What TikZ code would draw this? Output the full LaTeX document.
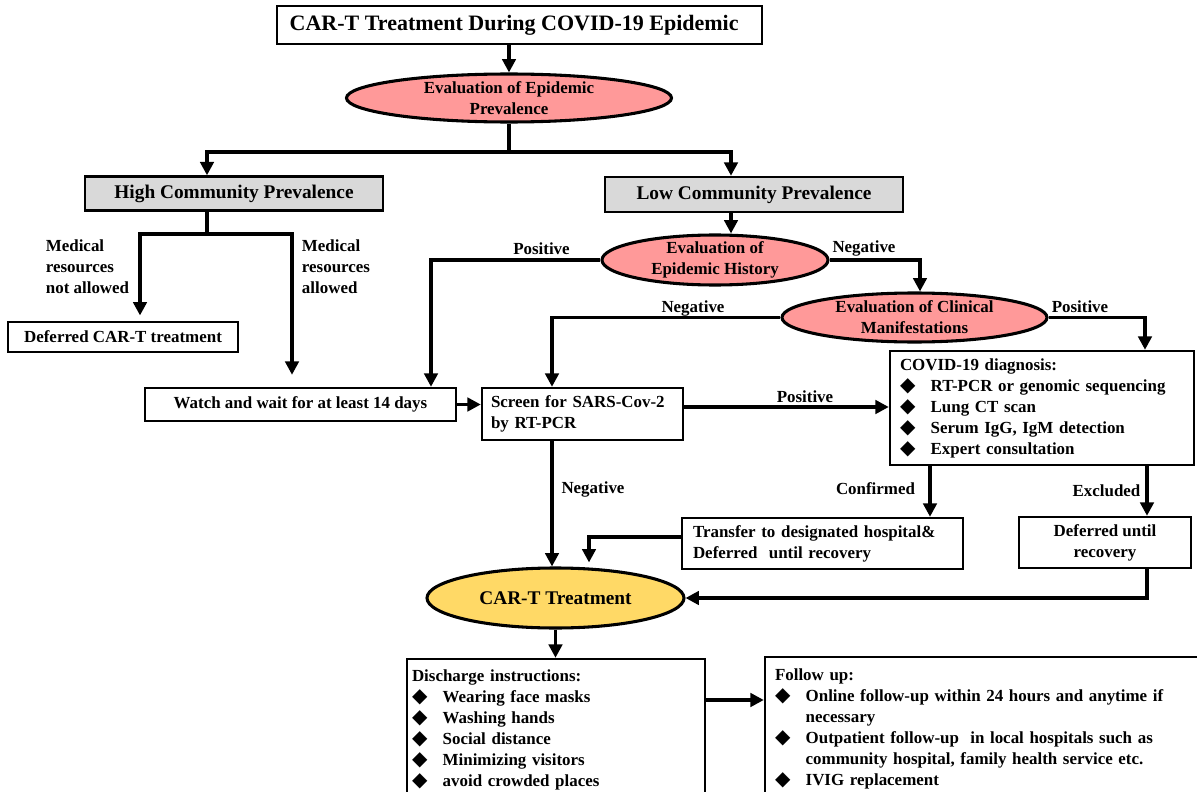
\documentclass[tikz,border=0pt]{standalone}
\usepackage{fontspec}
\setmainfont{Liberation Serif}
\newfontfamily\symfont{DejaVu Sans}
\usetikzlibrary{shapes.geometric,arrows.meta}

\definecolor{ovalpink}{HTML}{FF9999}
\definecolor{ovalyellow}{HTML}{FFD966}
\definecolor{boxgray}{HTML}{D9D9D9}

\newcommand\bodyfont{\fontsize{12.7pt}{15.75pt}\selectfont\bfseries}
\newcommand\bigfont{\fontsize{14.5pt}{17pt}\selectfont\bfseries}
\newcommand\titlefont{\fontsize{16.5pt}{19pt}\selectfont\bfseries}
\newcommand\dia{\makebox[23pt][l]{\symfont\fontsize{15pt}{15pt}\selectfont\char"25C6}}
\newcommand\gap{\hspace*{23pt}}

\begin{document}
\begin{tikzpicture}[x=0.75pt,y=-0.75pt,
    box/.style={draw,line width=1.8pt,fill=white,font=\bodyfont,inner sep=0pt},
    graybox/.style={box,fill=boxgray,font=\bigfont},
    oval/.style={ellipse,draw,line width=2.3pt,fill=ovalpink,font=\bodyfont,align=center,inner xsep=0pt,inner ysep=-2pt},
    wire/.style={line width=2.6pt},
    arr/.style={wire,-{Triangle[length=10pt,width=10pt]}},
    lab/.style={font=\bodyfont,align=left,inner sep=0pt}]
    \useasboundingbox (0,0) rectangle (1197,792);

    % boxes and ovals
    \node[box,font=\titlefont,minimum width=363.75pt,minimum height=28.5pt] (title) at (519.5,25) {CAR-T Treatment During COVID-19 Epidemic\hspace*{8pt}};
    \node[oval,minimum width=243.75pt,minimum height=36pt] (prev) at (509,98) {Evaluation of Epidemic\\Prevalence};
    \node[graybox,minimum width=223.5pt,minimum height=25.5pt] (high) at (234,193.5) {High Community Prevalence};
    \node[graybox,minimum width=223.5pt,minimum height=26.25pt] (low) at (754,194.5) {Low Community Prevalence};
    \node[oval,minimum width=169.5pt,minimum height=37.5pt] (hist) at (715,260) {Evaluation of\\Epidemic History};
    \node[oval,minimum width=198.75pt,minimum height=36.75pt] (clin) at (914.5,317.5) {Evaluation of Clinical\\Manifestations};
    \node[box,minimum width=172.5pt,minimum height=22.5pt] (defer) at (123,337) {Deferred CAR-T treatment};
    \node[box,minimum width=233.25pt,minimum height=24.75pt] (watch) at (300.5,404.5) {Watch and wait for at least 14 days};
    \node[box,align=left,text width=137.25pt,inner xsep=6.75pt,minimum height=39pt] (screen) at (582.5,414) {Screen for SARS-Cov-2\\by RT-PCR};
    \node[box,align=left,text width=213pt,inner xsep=7.5pt,minimum height=85.5pt] (covid) at (1042,408) {COVID-19 diagnosis:\\\dia RT-PCR or genomic sequencing\\\dia Lung CT scan\\\dia Serum IgG, IgM detection\\\dia Expert consultation};
    \node[box,align=left,text width=194.25pt,inner xsep=8.25pt,minimum height=38.25pt] (transfer) at (822.5,543.5) {Transfer to designated hospital\&\\Deferred\ \ until recovery};
    \node[box,align=center,minimum width=129pt,minimum height=38.25pt] (defrec) at (1105,542.5) {Deferred until\\recovery};
    \node[oval,fill=ovalyellow,font=\bigfont,minimum width=192.75pt,minimum height=45pt] (cart) at (555.5,598) {CAR-T Treatment};
    \node[box,align=left,text width=216pt,inner xsep=3.75pt,minimum height=105.75pt] (discharge) at (556,729.5) {Discharge instructions:\\\dia Wearing face masks\\\dia Washing hands\\\dia Social distance\\\dia Minimizing visitors\\\dia avoid crowded places};
    \node[box,align=left,text width=318.75pt,inner xsep=7.5pt,minimum height=107.25pt] (follow) at (987.5,728.5) {Follow up:\\\dia Online follow-up within 24 hours and anytime if\\\gap necessary\\\dia Outpatient follow-up\ \ in local hospitals such as\\\gap community hospital, family health service etc.\\\dia IVIG replacement};

    % labels
    \node[lab] (nal) at (87.5,267) {Medical\\resources\\not allowed};
    \node[lab] (al) at (336,267) {Medical\\resources\\allowed};
    \node[lab] (hpos) at (541.5,249) {Positive};
    \node[lab] (hneg) at (864,248) {Negative};
    \node[lab] (cneg) at (693,308) {Negative};
    \node[lab] (cpos) at (1080,307) {Positive};
    \node[lab] (spos) at (805,397) {Positive};
    \node[lab] (sneg) at (593,489) {Negative};
    \node[lab] (conf) at (875.5,489) {Confirmed};
    \node[lab] (excl) at (1106.5,491) {Excluded};

    % connectors
    \coordinate (split) at (509,152);
    \coordinate (hs) at (207,234);
    \draw[arr] (title.south -| prev.north) -- (prev.north);
    \draw[wire] (prev.south) -- (split);
    \draw[arr] (split) -| (207,0 |- high.north);
    \draw[arr] (split) -| (731,0 |- low.north);
    \draw[wire] (207,0 |- high.south) -- (hs);
    \draw[arr,shorten >=4pt] (hs) -| (140,0 |- defer.north);
    \draw[arr,shorten >=9pt] (hs) -| (292,0 |- watch.north);
    \draw[arr] (731,0 |- low.south) -- (731,0 |- hist.north);
    \draw[arr] (hist.west) -| (431,0 |- watch.north);
    \draw[arr] (hist.east) -| (920,0 |- clin.north);
    \draw[arr] (clin.west) -| (552,0 |- screen.north);
    \draw[arr] (clin.east) -| (1145,0 |- covid.north);
    \draw[arr] (watch.east) -- (screen.west |- watch.east);
    \draw[arr] (screen.east |- 0,407) -- (covid.west |- 0,407);
    \draw[arr] (930,0 |- covid.south) -- (930,0 |- transfer.north);
    \draw[arr] (1147,0 |- covid.south) -- (1147,0 |- defrec.north);
    \draw[arr] (552,0 |- screen.south) -- (552,0 |- cart.north);
    \draw[arr,shorten >=3pt] (transfer.west |- 0,537) -| (589,0 |- cart.north);
    \draw[arr] (1147,0 |- defrec.south) |- (cart.east);
    \draw[arr] (cart.south) -- (cart.south |- discharge.north);
    \draw[arr] (discharge.east |- 0,700) -- (follow.west |- 0,700);
\end{tikzpicture}
\end{document}
